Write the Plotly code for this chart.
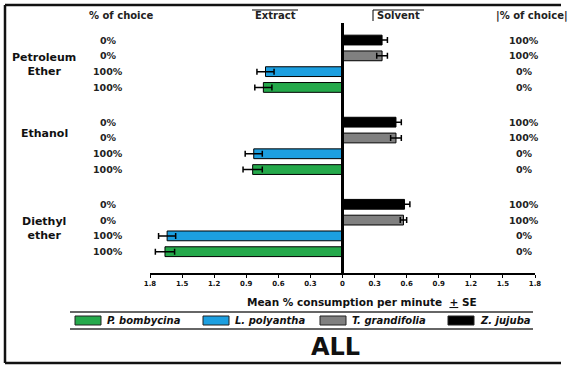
import plotly.graph_objects as go

# Solvent groups (top to bottom) and species (top to bottom inside each group)
solvents = ["Petroleum<br>Ether", "Ethanol", "Diethyl<br>ether"]
species = ["Z. jujuba", "T. grandifolia", "L. polyantha", "P. bombycina"]

# Mean % consumption per minute, one value per solvent
jujuba_mean = [0.37, 0.50, 0.58]
grandifolia_mean = [0.37, 0.50, 0.57]
polyantha_mean = [0.72, 0.83, 1.64]
bombycina_mean = [0.74, 0.84, 1.66]

# Standard errors
jujuba_se = [0.05, 0.05, 0.05]
grandifolia_se = [0.05, 0.05, 0.03]
polyantha_se = [0.08, 0.08, 0.08]
bombycina_se = [0.08, 0.09, 0.09]

# Arm chosen by each species: -1 = extract (left), +1 = solvent (right)
chosen_arm = [1, 1, -1, -1]

# % of choice per solvent group, in species order
extract_choice = [[0, 0, 100, 100], [0, 0, 100, 100], [0, 0, 100, 100]]
solvent_choice = [[100, 100, 0, 0], [100, 100, 0, 0], [100, 100, 0, 0]]

tick_values = [-1.8, -1.5, -1.2, -0.9, -0.6, -0.3, 0, 0.3, 0.6, 0.9, 1.2, 1.5, 1.8]
tick_labels = ["1.8", "1.5", "1.2", "0.9", "0.6", "0.3", "0",
               "0.3", "0.6", "0.9", "1.2", "1.5", "1.8"]

means = [jujuba_mean, grandifolia_mean, polyantha_mean, bombycina_mean]
ses = [jujuba_se, grandifolia_se, polyantha_se, bombycina_se]
colors = ["#000000", "#808080", "#1c9fe0", "#25a94b"]

FONT = "DejaVu Sans"
W, H = 570, 365
L, R, T, B = 150, 35, 23, 92
GROUP_STEP = 5.2


def row(g, i):
    return g * GROUP_STEP + i


def px(x):
    return (x - L) / (W - L - R)


def py(y):
    return (H - B - y) / (H - T - B)


def label(x, y, text, size, xanchor="center", yref="paper", color="#111"):
    return dict(x=x, y=y, xref="paper", yref=yref, xanchor=xanchor,
                yanchor="middle", text=text, showarrow=False,
                font=dict(family=FONT, size=size, color=color))


fig = go.Figure()
for i, name in enumerate(species):
    fig.add_trace(go.Bar(
        y=[row(g, i) for g in range(len(solvents))],
        x=[chosen_arm[i] * v for v in means[i]],
        error_x=dict(type="data", array=ses[i], color="#000000",
                     thickness=1.5, width=3),
        orientation="h",
        width=0.62,
        name=name,
        marker=dict(color=colors[i], line=dict(color="#000000", width=1)),
        showlegend=False,
    ))

annotations = []
shapes = []

# % of choice columns
for g in range(len(solvents)):
    for i in range(len(species)):
        annotations.append(label(px(108), row(g, i),
                                 f"<b>{extract_choice[g][i]}%</b>", 9.5,
                                 yref="y", color="#222"))
        annotations.append(label(px(524), row(g, i),
                                 f"<b>{solvent_choice[g][i]}%</b>", 9.5,
                                 yref="y", color="#222"))

# Solvent group names
for name, ypx in zip(solvents, [64, 133, 228]):
    annotations.append(label(px(44), py(ypx), f"<b>{name}</b>", 11))

# Column headers
headers = [("% of choice", 121), ("Extract", 275), ("Solvent", 398), ("|% of choice|", 532)]
for text, xpx in headers:
    annotations.append(label(px(xpx), py(16), f"<b>{text}</b>", 10, color="#222"))
shapes.append(dict(type="line", xref="paper", yref="paper",
                   x0=px(252), x1=px(298), y0=py(10), y1=py(10),
                   line=dict(color="#000", width=1)))
shapes.append(dict(type="line", xref="paper", yref="paper",
                   x0=px(373), x1=px(424), y0=py(10), y1=py(10),
                   line=dict(color="#000", width=1)))
shapes.append(dict(type="line", xref="paper", yref="paper",
                   x0=px(373), x1=px(373), y0=py(10), y1=py(21),
                   line=dict(color="#000", width=1)))

# Axis title
annotations.append(label(px(362), py(302),
                         "<b>Mean % consumption per minute  <u>+</u> SE</b>", 10.5))

# Legend box lines
for ypx in (312, 329):
    shapes.append(dict(type="line", xref="paper", yref="paper",
                       x0=px(70), x1=px(533), y0=py(ypx), y1=py(ypx),
                       line=dict(color="#333", width=1.5)))

# Legend entries: swatch + italic label
legend_order = [3, 2, 1, 0]
swatch_x = [75, 203, 320, 448]
for k, idx in enumerate(legend_order):
    x0 = swatch_x[k]
    shapes.append(dict(type="rect", xref="paper", yref="paper",
                       x0=px(x0), x1=px(x0 + 26), y0=py(325), y1=py(316),
                       fillcolor=colors[idx], line=dict(color="#222", width=1)))
    annotations.append(label(px(x0 + 30), py(320.5),
                             f"<b><i>{species[idx]}</i></b>", 10, xanchor="left"))

# Panel caption
annotations.append(label(px(335), py(347), "<b>ALL</b>", 24))

# Outer frame (left, top, bottom)
frame = dict(color="#111", width=2.5)
shapes.append(dict(type="line", xref="paper", yref="paper",
                   x0=px(5), x1=px(5), y0=py(5), y1=py(363), line=frame))
shapes.append(dict(type="line", xref="paper", yref="paper",
                   x0=px(5), x1=px(561), y0=py(5), y1=py(5), line=frame))
shapes.append(dict(type="line", xref="paper", yref="paper",
                   x0=px(5), x1=px(561), y0=py(363), y1=py(363), line=frame))

# Central zero line between the extract and solvent arms
shapes.append(dict(type="line", xref="x", yref="paper",
                   x0=0, x1=0, y0=0, y1=1, layer="above",
                   line=dict(color="#000", width=3)))

fig.update_layout(
    width=W, height=H, autosize=False,
    margin=dict(l=L, r=R, t=T, b=B, pad=0),
    paper_bgcolor="white", plot_bgcolor="white",
    barmode="overlay",
    annotations=annotations, shapes=shapes,
    xaxis=dict(range=[-1.8, 1.8], tickvals=tick_values,
               ticktext=[f"<b>{t}</b>" for t in tick_labels],
               showgrid=False, zeroline=False, showline=True,
               linecolor="#000", linewidth=2, ticks="outside", ticklen=3,
               tickcolor="#000", tickwidth=1,
               tickfont=dict(family=FONT, size=7, color="#111"),
               fixedrange=True),
    yaxis=dict(range=[14.75, -1.08], visible=False, showgrid=False,
               zeroline=False, fixedrange=True),
    font=dict(family=FONT),
)

fig.write_html("out.html")
